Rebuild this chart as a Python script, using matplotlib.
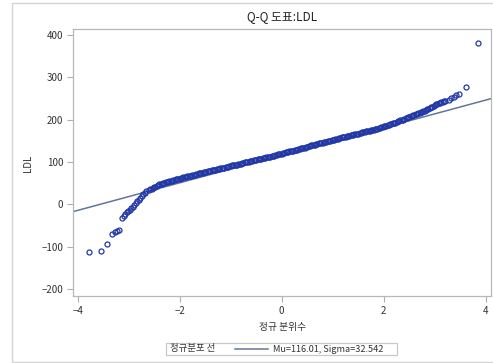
import numpy as np
import matplotlib
matplotlib.use("Agg")
import matplotlib.pyplot as plt
from matplotlib.patches import Rectangle
from matplotlib.lines import Line2D

plt.rcParams['font.family'] = ['Noto Sans CJK KR', 'DejaVu Sans']

# Normal quantiles and sorted LDL observations
quantiles = [
    -3.77, -3.55, -3.42, -3.33, -3.26, -3.22, -3.18, -3.13, -3.10, -3.07,
    -3.04, -3.01, -2.98, -2.95, -2.92, -2.89, -2.86, -2.83, -2.80, -2.77,
    -2.74, -2.71, -2.68, -2.65,
    -2.60, -2.55, -2.50, -2.45, -2.40, -2.35, -2.30, -2.25, -2.20, -2.15,
    -2.10, -2.05, -2.00, -1.95, -1.90, -1.85, -1.80, -1.75, -1.70, -1.65,
    -1.60, -1.55, -1.50, -1.45, -1.40, -1.35, -1.30, -1.25, -1.20, -1.15,
    -1.10, -1.05, -1.00, -0.95, -0.90, -0.85, -0.80, -0.75, -0.70, -0.65,
    -0.60, -0.55, -0.50, -0.45, -0.40, -0.35, -0.30, -0.25, -0.20, -0.15,
    -0.10, -0.05, 0.00, 0.05, 0.10, 0.15, 0.20, 0.25, 0.30, 0.35,
    0.40, 0.45, 0.50, 0.55, 0.60, 0.65, 0.70, 0.75, 0.80, 0.85,
    0.90, 0.95, 1.00, 1.05, 1.10, 1.15, 1.20, 1.25, 1.30, 1.35,
    1.40, 1.45, 1.50, 1.55, 1.60, 1.65, 1.70, 1.75, 1.80, 1.85,
    1.90, 1.95, 2.00, 2.05, 2.10, 2.15, 2.20, 2.25, 2.30, 2.35,
    2.40, 2.45, 2.50, 2.55, 2.60, 2.65, 2.70, 2.75, 2.80, 2.85,
    2.90, 2.95, 3.00, 3.05, 3.10, 3.15, 3.20,
    3.27, 3.32, 3.37, 3.42, 3.47, 3.61, 3.84,
]
ldl = [
    -112, -110, -93, -70, -64, -62, -61, -33, -28, -23,
    -19, -15, -12, -8, -5, -1, 3, 7, 11, 16,
    21, 25, 28, 31,
    34, 37, 40, 44, 47, 49, 51, 53, 55, 56,
    58, 59, 61, 63, 64, 66, 67, 69, 70, 72,
    73, 75, 76, 78, 79, 80, 82, 83, 85, 86,
    88, 89, 91, 92, 93, 95, 96, 98, 99, 101,
    102, 104, 105, 106, 108, 109, 111, 112, 114, 115,
    117, 118, 120, 122, 123, 125, 126, 128, 129, 131,
    133, 134, 136, 138, 139, 141, 143, 144, 146, 147,
    149, 150, 152, 154, 155, 157, 158, 160, 161, 163,
    164, 166, 167, 169, 170, 172, 173, 175, 176, 178,
    180, 182, 184, 186, 188, 190, 192, 194, 197, 199,
    201, 204, 206, 209, 212, 214, 216, 218, 221, 224,
    227, 230, 234, 237, 240, 242, 244,
    247, 250, 254, 257, 261, 276, 380,
]

# further observations inside the dense central band
quantiles_band = [
    -2.575, -2.525, -2.475, -2.425, -2.375, -2.325, -2.275, -2.225, -2.175, -2.125,
    -2.075, -2.025, -1.975, -1.925, -1.875, -1.825, -1.775, -1.725, -1.675, -1.625,
    -1.575, -1.525, -1.475, -1.425, -1.375, -1.325, -1.275, -1.225, -1.175, -1.125,
    -1.075, -1.025, -0.975, -0.925, -0.875, -0.825, -0.775, -0.725, -0.675, -0.625,
    -0.575, -0.525, -0.475, -0.425, -0.375, -0.325, -0.275, -0.225, -0.175, -0.125,
    -0.075, -0.025, 0.025, 0.075, 0.125, 0.175, 0.225, 0.275, 0.325, 0.375,
    0.425, 0.475, 0.525, 0.575, 0.625, 0.675, 0.725, 0.775, 0.825, 0.875,
    0.925, 0.975, 1.025, 1.075, 1.125, 1.175, 1.225, 1.275, 1.325, 1.375,
    1.425, 1.475, 1.525, 1.575, 1.625, 1.675, 1.725, 1.775, 1.825, 1.875,
    1.925, 1.975, 2.025, 2.075, 2.125, 2.175, 2.225, 2.275, 2.325, 2.375,
    2.425, 2.475, 2.525, 2.575, 2.625, 2.675, 2.725, 2.775, 2.825, 2.875,
    2.925, 2.975, 3.025, 3.075, 3.125, 3.175,
]
ldl_band = [
    36, 39, 42, 46, 48, 50, 52, 54, 56, 57,
    59, 60, 62, 64, 65, 67, 68, 70, 71, 73,
    74, 76, 77, 79, 80, 81, 83, 84, 86, 87,
    89, 90, 92, 93, 94, 96, 97, 99, 100, 102,
    103, 105, 106, 107, 109, 110, 112, 113, 115, 116,
    118, 119, 121, 123, 124, 126, 127, 129, 130, 132,
    134, 135, 137, 139, 140, 142, 144, 145, 147, 148,
    150, 151, 153, 155, 156, 158, 159, 161, 162, 164,
    165, 167, 168, 170, 171, 173, 174, 176, 177, 179,
    181, 183, 185, 187, 189, 191, 193, 196, 198, 200,
    203, 205, 208, 211, 213, 215, 217, 220, 223, 226,
    229, 232, 236, 239, 241, 243,
]

mu = 116.01
sigma = 32.542

x_ticks = [-4, -2, 0, 2, 4]
y_ticks = [-200, -100, 0, 100, 200, 300, 400]

W, H = 493, 363
fig = plt.figure(figsize=(W / 100, H / 100), dpi=100)

# outer frame around the graph
fig.patches.append(Rectangle((12 / W, 1 - 362 / H), 1.0, (359) / H,
                             transform=fig.transFigure, fill=False,
                             edgecolor='#d4d4d4', linewidth=1.0))

ax = fig.add_axes([73 / W, 1 - 296 / H, (491 - 73) / W, (296 - 29.3) / H])
xlim = (-4.09, 4.10)
ax.set_xlim(*xlim)
ax.set_ylim(-216, 413)

line_color = '#62769a'
marker_color = '#2238a6'

xs = np.array(xlim)
ax.plot(xs, mu + sigma * xs, color=line_color, linewidth=1.1, zorder=2)
marker_style = dict(linestyle='none', marker='o', markersize=3.6,
                    markerfacecolor='none', markeredgecolor=marker_color,
                    markeredgewidth=0.9, zorder=3)
ax.plot(quantiles, ldl, **marker_style)
ax.plot(quantiles_band, ldl_band, **marker_style)

ax.set_xticks(x_ticks)
ax.set_yticks(y_ticks)
ax.set_xticklabels([str(t).replace('-', '\u2212') for t in x_ticks])
ax.set_yticklabels([str(t).replace('-', '\u2212') for t in y_ticks])
ax.tick_params(direction='out', length=4, width=0.8, colors='#b0b0b0',
               labelcolor='#333333', labelsize=7, pad=3)
for s in ax.spines.values():
    s.set_color('#b8b8b8')
    s.set_linewidth(0.9)

fig.text(282 / W, 1 - 17 / H, 'Q-Q 도표:LDL', ha='center', va='center',
         fontsize=8.5, color='#222222')
fig.text(282.7 / W, 1 - 327 / H, '정규 분위수', ha='center', va='center',
         fontsize=7, color='#333333')
fig.text(28 / W, 1 - 163 / H, 'LDL', ha='center', va='center',
         rotation=90, fontsize=7, color='#333333')

# legend
fig.patches.append(Rectangle((166 / W, 1 - 355.3 / H), (397 - 166) / W,
                             12.6 / H, transform=fig.transFigure, fill=False,
                             edgecolor='#c8c8c8', linewidth=0.9))
ly = 1 - 349 / H
fig.text(170 / W, ly, '정규분포 선', ha='left', va='center', fontsize=6.8,
         color='#333333')
fig.lines.append(Line2D([235 / W, 268 / W], [ly, ly], transform=fig.transFigure,
                        color=line_color, linewidth=1.1))
fig.text(273 / W, ly, f'Mu={mu:.2f}, Sigma={sigma:.3f}', ha='left',
         va='center', fontsize=6.6, color='#333333')

fig.savefig('out.png', dpi=100)
